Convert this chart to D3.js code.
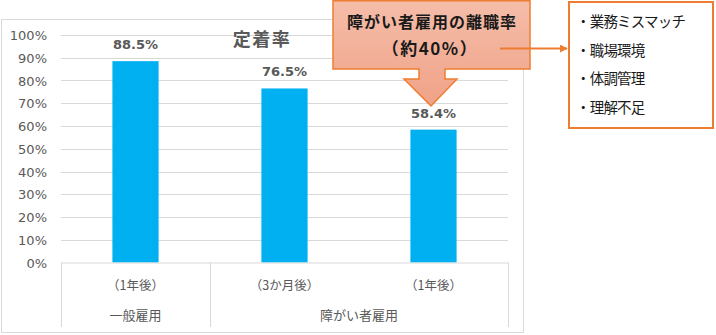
<!DOCTYPE html>
<html>
<head>
<meta charset="utf-8">
<script src="https://cdn.jsdelivr.net/npm/d3@7/dist/d3.min.js"></script>
<style>
  html, body { margin: 0; padding: 0; background: #fff; }
  svg { display: block; }
</style>
</head>
<body>
<script>
// ---- data ----
const categories = ["（1年後）", "（3か月後）", "（1年後）"];
const groups = ["一般雇用", "障がい者雇用", "障がい者雇用"];
const values = [0.885, 0.765, 0.584];
const valueLabels = ["88.5%", "76.5%", "58.4%"];
const yTicks = [0, 0.1, 0.2, 0.3, 0.4, 0.5, 0.6, 0.7, 0.8, 0.9, 1.0];
const chartTitle = "定着率";
const calloutLines = ["障がい者雇用の離職率", "（約40%）"];
const reasons = ["・業務ミスマッチ", "・職場環境", "・体調管理", "・理解不足"];

const W = 716, H = 335;
const svg = d3.select("body").append("svg").attr("width", W).attr("height", H);
const CJK = "'Noto Sans CJK JP', 'Noto Sans', sans-serif";
const gray = "#595959", grid = "#D9D9D9", orange = "#ED7D31", barColor = "#00B0F0";

// chart frame
svg.append("rect").attr("x", 1.5).attr("y", 19.5).attr("width", 522).attr("height", 313)
  .attr("fill", "#fff").attr("stroke", grid).attr("stroke-width", 1);

const plotL = 61, plotR = 508, plotT = 35, plotB = 262.5;
const x = d3.scaleBand().domain(d3.range(categories.length)).range([plotL, plotR])
  .paddingInner(0.69).paddingOuter(0.345);
const xc = d3.scaleBand().domain(d3.range(categories.length)).range([plotL, plotR]).padding(0);
const y = d3.scaleLinear().domain([0, 1]).range([plotB, plotT]);

// gridlines
svg.append("g").selectAll("line").data(yTicks.filter(d => d > 0)).join("line")
  .attr("x1", plotL).attr("x2", plotR)
  .attr("y1", d => Math.round(y(d)) + 0.5).attr("y2", d => Math.round(y(d)) + 0.5)
  .attr("stroke", grid).attr("stroke-width", 1);

// y axis labels
const yAxis = d3.axisLeft(y).tickValues(yTicks).tickFormat(d3.format(".0%")).tickSize(0).tickPadding(0);
const gy = svg.append("g").attr("transform", `translate(47,0)`).call(yAxis);
gy.select(".domain").remove();
gy.selectAll("text").attr("font-family", "'DejaVu Sans', sans-serif").attr("font-size", 13)
  .attr("fill", gray).attr("dy", "0.35em");

// bars
svg.append("g").selectAll("rect").data(values).join("rect")
  .attr("x", (d, i) => x(i)).attr("width", x.bandwidth())
  .attr("y", d => y(d)).attr("height", d => plotB - y(d))
  .attr("fill", barColor);

// value labels
svg.append("g").selectAll("text").data(values).join("text")
  .attr("x", (d, i) => x(i) + x.bandwidth() / 2).attr("y", d => y(d) - 12)
  .attr("text-anchor", "middle").attr("font-family", "'DejaVu Sans', sans-serif")
  .attr("font-weight", "bold").attr("font-size", 13).attr("fill", gray)
  .text((d, i) => valueLabels[i]);

// category axis box (multi-level)
const axisG = svg.append("g");
axisG.append("line").attr("x1", plotL).attr("x2", plotR).attr("y1", plotB + 0.5).attr("y2", plotB + 0.5)
  .attr("stroke", grid);
const groupSpans = [];
groups.forEach((g, i) => {
  const last = groupSpans[groupSpans.length - 1];
  if (last && last.name === g) last.end = i; else groupSpans.push({ name: g, start: i, end: i });
});
const sepXs = [plotL].concat(groupSpans.map(s => xc(s.end) + xc.bandwidth()));
axisG.selectAll("line.sep").data(sepXs).join("line").attr("class", "sep")
  .attr("x1", d => Math.round(d) + 0.5).attr("x2", d => Math.round(d) + 0.5)
  .attr("y1", plotB).attr("y2", 327).attr("stroke", grid);
axisG.selectAll("text.cat").data(categories).join("text").attr("class", "cat")
  .attr("x", (d, i) => xc(i) + xc.bandwidth() / 2).attr("y", 289.5)
  .attr("text-anchor", "middle").attr("font-family", CJK).attr("font-size", 12.5)
  .attr("fill", gray).text(d => d);
axisG.selectAll("text.grp").data(groupSpans).join("text").attr("class", "grp")
  .attr("x", s => (xc(s.start) + xc(s.end) + xc.bandwidth()) / 2).attr("y", 320)
  .attr("text-anchor", "middle").attr("font-family", CJK).attr("font-size", 13)
  .attr("fill", gray).text(s => s.name);

// title
svg.append("text").attr("x", 262).attr("y", 46).attr("text-anchor", "middle")
  .attr("font-family", CJK).attr("font-weight", "bold").attr("font-size", 18)
  .attr("letter-spacing", 1.5).attr("fill", gray).text(chartTitle);

// callout gradient
const defs = svg.append("defs");
const grad = defs.append("linearGradient").attr("id", "cg").attr("x1", 0).attr("y1", 0).attr("x2", 0).attr("y2", 1);
grad.append("stop").attr("offset", "0%").attr("stop-color", "#F5BDA9");
grad.append("stop").attr("offset", "100%").attr("stop-color", "#F0A287");
defs.append("marker").attr("id", "arr").attr("viewBox", "0 0 10 10").attr("refX", 9).attr("refY", 5)
  .attr("markerWidth", 4).attr("markerHeight", 4).attr("orient", "auto")
  .append("path").attr("d", "M0,0 L10,5 L0,10 z").attr("fill", orange);

// callout shape (down arrow callout)
const cp = d3.path();
cp.moveTo(333, 0.8); cp.lineTo(530, 0.8); cp.lineTo(530, 69); cp.lineTo(445, 69);
cp.lineTo(445, 79); cp.lineTo(457, 79); cp.lineTo(431, 106); cp.lineTo(404, 79);
cp.lineTo(419, 79); cp.lineTo(419, 69); cp.lineTo(333, 69); cp.closePath();
svg.append("path").attr("d", cp.toString()).attr("fill", "url(#cg)")
  .attr("stroke", orange).attr("stroke-width", 1.5);
svg.append("text").attr("x", 432).attr("y", 28).attr("text-anchor", "middle")
  .attr("font-family", CJK).attr("font-weight", "bold").attr("font-size", 16)
  .attr("letter-spacing", 1).attr("fill", "#1a1a1a").text(calloutLines[0]);
svg.append("text").attr("x", 430).attr("y", 55).attr("text-anchor", "middle")
  .attr("font-family", CJK).attr("font-weight", "bold").attr("font-size", 17)
  .attr("letter-spacing", 1.5).attr("fill", "#1a1a1a").text(calloutLines[1]);

// connector arrow
svg.append("line").attr("x1", 500).attr("x2", 567).attr("y1", 48.5).attr("y2", 48.5)
  .attr("stroke", orange).attr("stroke-width", 2).attr("marker-end", "url(#arr)");

// reasons box
svg.append("rect").attr("x", 569).attr("y", 2).attr("width", 144).attr("height", 126)
  .attr("fill", "#fff").attr("stroke", orange).attr("stroke-width", 2);
svg.append("g").selectAll("text").data(reasons).join("text")
  .attr("x", 576).attr("y", (d, i) => 27 + i * 28.7)
  .attr("font-family", CJK).attr("font-size", 14.5).attr("letter-spacing", -0.8)
  .attr("fill", "#1a1a1a")
  .text(d => d);
</script>
</body>
</html>
